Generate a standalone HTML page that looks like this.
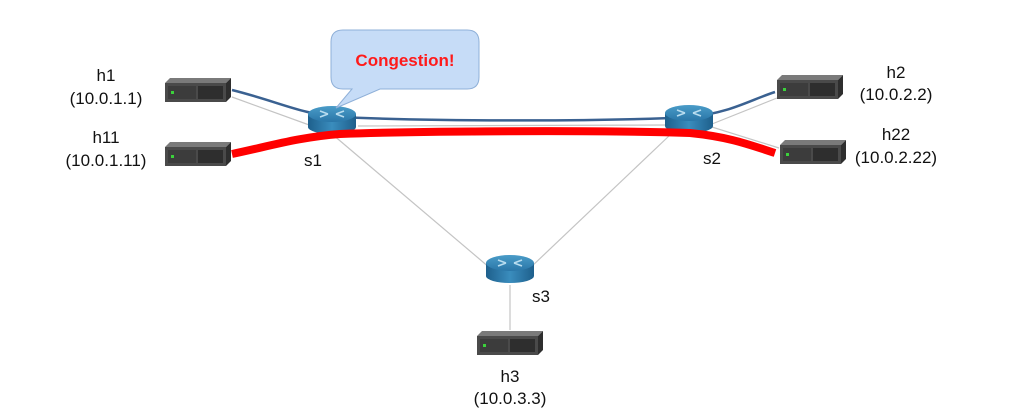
<!DOCTYPE html>
<html><head><meta charset="utf-8"><style>
html,body{margin:0;padding:0;background:#fff;width:1024px;height:419px;overflow:hidden}
text{font-family:"Liberation Sans",sans-serif;fill:#111}
</style></head><body>
<svg width="1024" height="419" viewBox="0 0 1024 419" xmlns="http://www.w3.org/2000/svg">
<defs>
<linearGradient id="rt" x1="0" y1="0" x2="0" y2="1"><stop offset="0" stop-color="#4a9cc8"/><stop offset="1" stop-color="#2a76a8"/></linearGradient>
<linearGradient id="rs" x1="0" y1="0" x2="1" y2="0"><stop offset="0" stop-color="#1e5f8c"/><stop offset="0.5" stop-color="#3a8dbd"/><stop offset="1" stop-color="#1e5f8c"/></linearGradient>
<g id="host">
<polygon points="0,5 5,0 66,0 61,5" fill="#7a7a7a"/>
<polygon points="61,5 66,0 66,19 61,24" fill="#2e2e2e"/>
<rect x="0" y="5" width="61" height="19" fill="#4a4a4a"/>
<rect x="3" y="8" width="28" height="13" fill="#3c3c3c"/>
<rect x="33" y="8" width="25" height="13" fill="#2e2e2e"/>
<rect x="6" y="13" width="3" height="3" fill="#3bd23b"/>
</g>
<g id="router">
<path d="M-24,-6 L-24,7 A24,7 0 0 0 24,7 L24,-6 Z" fill="url(#rs)"/>
<ellipse cx="0" cy="-6" rx="24" ry="8" fill="url(#rt)"/>
<g stroke="#b8dcef" stroke-width="1.6" fill="none">
<path d="M-12,-9 L-4,-6 M-12,-3 L-4,-6 M12,-9 L4,-6 M12,-3 L4,-6"/>
</g>
</g>
</defs>
<g stroke="#c4c4c4" stroke-width="1.2" fill="none">
<line x1="232" y1="97" x2="312" y2="126"/>
<line x1="358" y1="126" x2="668" y2="125"/>
<line x1="332" y1="134" x2="490" y2="268"/>
<line x1="670" y1="135" x2="530" y2="268"/>
<line x1="712" y1="124" x2="777" y2="98"/>
<line x1="712" y1="127" x2="779" y2="148"/>
<line x1="510" y1="285" x2="510" y2="330"/>
</g>
<path d="M232,90 C280,102 300,114 340,117 C420,121 600,122 690,117 C730,113 750,100 775,92" stroke="#3a6191" stroke-width="2.5" fill="none"/>
<use href="#router" x="332" y="120"/>
<use href="#router" x="689" y="119"/>
<use href="#router" x="510" y="269"/>
<path d="M232,154 C270,146 300,137 340,134 C420,131 600,130 690,133 C730,137 750,145 775,153" stroke="#ff0000" stroke-width="8" fill="none"/>
<use href="#host" x="165" y="78"/>
<use href="#host" x="165" y="142"/>
<use href="#host" x="777" y="75"/>
<use href="#host" x="780" y="140"/>
<use href="#host" x="477" y="331"/>
<path d="M343,30 L467,30 Q479,30 479,42 L479,77 Q479,89 467,89 L380,89 L336,108 L352,89 L343,89 Q331,89 331,77 L331,42 Q331,30 343,30 Z" fill="#c6dcf7" stroke="#8fb0d8" stroke-width="1"/>
<text x="405" y="66" text-anchor="middle" font-size="17" font-weight="bold" style="fill:#ff1a1a">Congestion!</text>
<g font-size="17" text-anchor="middle">
<text x="106" y="81">h1</text>
<text x="106" y="104">(10.0.1.1)</text>
<text x="106" y="143">h11</text>
<text x="106" y="166">(10.0.1.11)</text>
<text x="896" y="78">h2</text>
<text x="896" y="100">(10.0.2.2)</text>
<text x="896" y="140">h22</text>
<text x="896" y="163">(10.0.2.22)</text>
<text x="313" y="166">s1</text>
<text x="712" y="164">s2</text>
<text x="541" y="302">s3</text>
<text x="510" y="382">h3</text>
<text x="510" y="404">(10.0.3.3)</text>
</g>
</svg>
</body></html>
